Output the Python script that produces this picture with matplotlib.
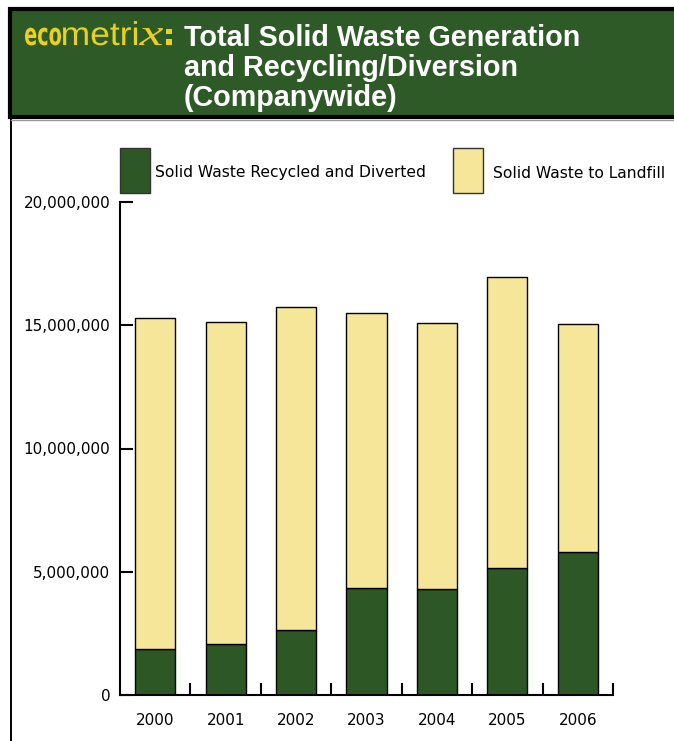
import matplotlib
matplotlib.use("Agg")
import matplotlib.pyplot as plt
from matplotlib.patches import Rectangle, PathPatch
from matplotlib.lines import Line2D
from matplotlib.ticker import FuncFormatter
from matplotlib.textpath import TextPath
from matplotlib.font_manager import FontProperties
from matplotlib.transforms import Affine2D

# Solid waste by year (lbs)
years = ["2000", "2001", "2002", "2003", "2004", "2005", "2006"]
recycled = [1.85e6, 2.06e6, 2.62e6, 4.36e6, 4.29e6, 5.14e6, 5.79e6]
landfill = [13.46e6, 13.08e6, 13.12e6, 11.14e6, 10.80e6, 11.83e6, 9.26e6]
y_ticks = [0, 5e6, 10e6, 15e6, 20e6]

GREEN = "#2d5826"
HEADER_GREEN = "#2e5a27"
YELLOW = "#f5e69a"
LOGO_YELLOW = "#e8d21e"

W, H = 674, 741
fig = plt.figure(figsize=(W / 100, H / 100), dpi=100)


def fx(x):
    return x / W


def fy(y):
    return 1 - y / H


def logo_word(s, prop, left, baseline, em, width, color):
    """Draw a word as a glyph outline fitted to a given ink width (pixels)."""
    tp = TextPath((0, 0), s, size=1, prop=prop)
    ext = tp.get_extents()
    sx = width / ext.width
    tr = (Affine2D().translate(-ext.x0, 0).scale(sx, em)
          .translate(left, H - baseline).scale(1 / W, 1 / H))
    fig.add_artist(PathPatch(tr.transform_path(tp), facecolor=color,
                             edgecolor="none", transform=fig.transFigure))


# Header band
fig.patches.append(Rectangle((fx(10), fy(117)), fx(700), 108 / H,
                             transform=fig.transFigure, facecolor=HEADER_GREEN,
                             edgecolor="black", linewidth=3, zorder=0))
# Panel border below the header
fig.lines.append(Line2D([fx(11), fx(11)], [fy(119), fy(745)],
                        transform=fig.transFigure, color="black", linewidth=1.4))
fig.lines.append(Line2D([fx(11), fx(680)], [fy(119.5), fy(119.5)],
                        transform=fig.transFigure, color="#9a9a9a", linewidth=1))

# Logo
heavy = FontProperties(family="DejaVu Sans", weight="bold")
sans_reg = FontProperties(family="Liberation Sans", weight="normal")
serif_it = FontProperties(family="Liberation Serif", style="italic")
logo_word("eco", heavy, 25, 45, 31, 36, LOGO_YELLOW)
logo_word("metri", sans_reg, 63, 45, 33, 74, LOGO_YELLOW)
logo_word("x", serif_it, 139, 45, 37, 24, LOGO_YELLOW)
logo_word(":", heavy, 166, 45, 30, 6, LOGO_YELLOW)

# Title
title_lines = ["Total Solid Waste Generation", "and Recycling/Diversion", "(Companywide)"]
for i, line in enumerate(title_lines):
    fig.text(fx(184), fy(46 + 30 * i), line, color="white", fontsize=20.7,
             weight="bold", family=["Liberation Sans", "DejaVu Sans"], va="baseline")

# Legend
fig.patches.append(Rectangle((fx(120), fy(193)), 30 / W, 45 / H, transform=fig.transFigure,
                             facecolor=GREEN, edgecolor="#333333", linewidth=1))
fig.text(fx(155), fy(173), "Solid Waste Recycled and Diverted", fontsize=11.2,
         va="center", ha="left", color="black")
fig.patches.append(Rectangle((fx(453), fy(193)), 30 / W, 45 / H, transform=fig.transFigure,
                             facecolor=YELLOW, edgecolor="#333333", linewidth=1))
fig.text(fx(493), fy(173), "Solid Waste to Landfill", fontsize=11.2,
         va="center", ha="left", color="black")

# Chart
ax = fig.add_axes([fx(120), fy(695), 493 / W, 493 / H])
x = list(range(len(years)))
ax.bar(x, recycled, width=0.57, color=GREEN, edgecolor="black", linewidth=1, zorder=2)
ax.bar(x, landfill, width=0.57, bottom=recycled, color=YELLOW, edgecolor="black",
       linewidth=1, zorder=2)

ax.set_xlim(-0.5, 6.5)
ax.set_ylim(0, 20e6)
for side in ("top", "right"):
    ax.spines[side].set_visible(False)
for side in ("left", "bottom"):
    ax.spines[side].set_linewidth(1.5)
    ax.spines[side].set_color("black")

ax.set_yticks(y_ticks)
ax.yaxis.set_major_formatter(FuncFormatter(lambda v, p: f"{int(v):,}"))
ax.tick_params(axis="y", direction="in", length=9, width=1.5, pad=7, labelsize=11)

ax.set_xticks(x)
ax.set_xticklabels(years)
ax.set_xticks([i + 0.5 for i in x], minor=True)
ax.tick_params(axis="x", which="major", length=0, pad=13, labelsize=11)
ax.tick_params(axis="x", which="minor", direction="in", length=9, width=1.5)

fig.savefig("out.png", dpi=100)
